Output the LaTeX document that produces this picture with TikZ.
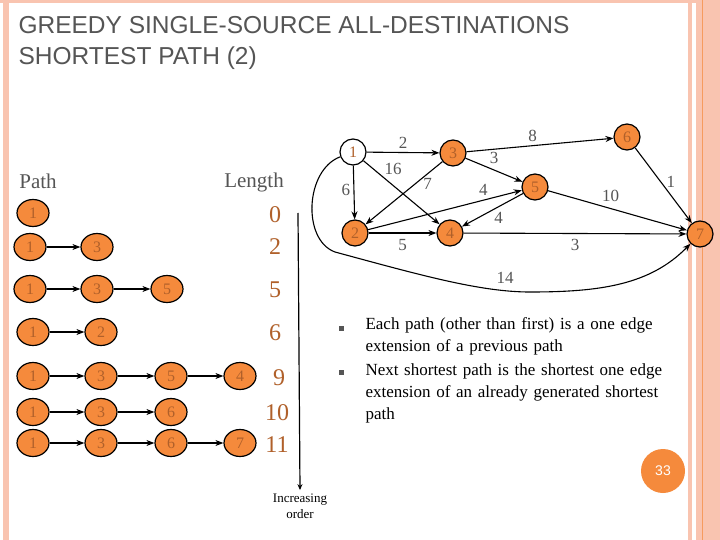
\documentclass[tikz,border=0pt]{standalone}
\usepackage{fontspec}
\setmainfont{Liberation Serif}
\newfontfamily\titlefont{Liberation Sans}
\usetikzlibrary{arrows.meta,shapes.geometric}
\definecolor{org}{HTML}{F58A3C}
\definecolor{brn}{HTML}{B0602A}
\definecolor{pk}{HTML}{F9C4B0}
\definecolor{gr}{HTML}{555555}
\tikzset{
 gn/.style={circle,draw=black,line width=1.2pt,fill=org,minimum size=26pt,inner sep=0pt,font=\fontsize{16}{16}\selectfont,text=brn},
 tn/.style={ellipse,draw=black,line width=1.2pt,fill=org,minimum width=32pt,minimum height=27pt,inner sep=0pt,font=\fontsize{16}{16}\selectfont,text=brn},
 ed/.style={-{Stealth[length=8pt,width=6pt]},line width=1.1pt},
 el/.style={text=gr,font=\fontsize{17}{17}\selectfont},
 len/.style={text=brn,font=\fontsize{24}{24}\selectfont,anchor=center},
 bul/.style={rectangle,fill=gr,minimum size=5pt,inner sep=0pt},
}
\begin{document}
\begin{tikzpicture}[x=1pt,y=-1pt]
\useasboundingbox (0,0) rectangle (720,540);
\fill[white] (0,0) rectangle (720,540);
\fill[pk] (0,0) rectangle (720,3);
\fill[pk] (3,0) rectangle (9,540);
\fill[pk] (688,0) rectangle (692,540);
\fill[pk] (696,0) rectangle (720,540);
\draw[org!70!pk,line width=0.8pt] (702,0) -- (702,540);
\node[anchor=north west,align=left,text=gr,font=\titlefont\fontsize{24.5}{31}\selectfont] (title) at (15,13) {GREEDY SINGLE-SOURCE ALL-DESTINATIONS\\SHORTEST PATH (2)};
% graph
\node[gn,fill=white] (g1) at (353,152) {1};
\node[gn] (g3) at (453,153) {3};
\node[gn] (g6) at (627,137) {6};
\node[gn] (g5) at (535,187) {5};
\node[gn] (g2) at (355,233) {2};
\node[gn] (g4) at (450,233) {4};
\node[gn] (g7) at (700,234) {7};
\draw[ed] (g1) -- node[el,above]{2} (g3);
\draw[ed] (g1) -- node[el,left,pos=0.45]{6} (g2);
\draw[ed] (g1) -- node[el,pos=0.28,above right,xshift=-4pt]{16} (g4);
\draw[ed] (g3) -- node[el,pos=0.35,right,xshift=4pt]{7} (g2);
\draw[ed] (g3) -- node[el,above,pos=0.5,yshift=2pt]{3} (g5);
\draw[ed] (g3) -- node[el,above,pos=0.45]{8} (g6);
\draw[ed] (g2) -- node[el,above,pos=0.75,yshift=1pt]{4} (g5);
\draw[ed] (g5) -- node[el,below,pos=0.4,yshift=-2pt]{4} (g4);
\draw[ed] (g2) -- node[el,below,yshift=-2pt]{5} (g4);
\draw[ed] (g4) -- node[el,below,yshift=-2pt]{3} (g7);
\draw[ed] (g5) -- node[el,above,pos=0.45,yshift=3pt]{10} (g7);
\draw[ed] (g6) -- node[el,right,pos=0.45,xshift=2pt]{1} (g7);
\draw[ed] (g1) .. controls (305,170) and (302,240) .. (335,252) .. controls (420,275) and (480,292) .. (530,292) .. controls (600,292) and (650,285) .. (g7);
\node[el] (l14) at (505,278) {14};
% table labels
\node[text=gr,font=\fontsize{21}{21}\selectfont] (path) at (38,181) {Path};
\node[text=gr,font=\fontsize{21}{21}\selectfont] (length) at (254,182) {Length};
% rows
\node[tn] (a1) at (33,213) {1};
\node[len] (la) at (275,215) {0};
\node[tn] (b1) at (30,247) {1}; \node[tn] (b3) at (97,247) {3};
\draw[ed] (b1) -- (b3); \node[len] (lb) at (275,247) {2};
\node[tn] (c1) at (30,289) {1}; \node[tn] (c3) at (97,289) {3}; \node[tn] (c5) at (167,289) {5};
\draw[ed] (c1) -- (c3); \draw[ed] (c3) -- (c5); \node[len] (lc) at (275,290) {5};
\node[tn] (d1) at (33,332) {1}; \node[tn] (d2) at (101,332) {2};
\draw[ed] (d1) -- (d2); \node[len] (ld) at (275,333) {6};
\node[tn] (e1) at (33,376) {1}; \node[tn] (e3) at (101,376) {3}; \node[tn] (e5) at (171,376) {5}; \node[tn] (e4) at (240,376) {4};
\draw[ed] (e1) -- (e3); \draw[ed] (e3) -- (e5); \draw[ed] (e5) -- (e4); \node[len] (le) at (279,378) {9};
\node[tn] (f1) at (33,412) {1}; \node[tn] (f3) at (101,412) {3}; \node[tn] (f6) at (171,412) {6};
\draw[ed] (f1) -- (f3); \draw[ed] (f3) -- (f6); \node[len] (lf) at (277,413) {10};
\node[tn] (h1) at (33,443) {1}; \node[tn] (h3) at (101,443) {3}; \node[tn] (h6) at (171,443) {6}; \node[tn] (h7) at (240,443) {7};
\draw[ed] (h1) -- (h3); \draw[ed] (h3) -- (h6); \draw[ed] (h6) -- (h7); \node[len] (lh) at (277,445) {11};
% increasing order
\coordinate (vt) at (298,213);
\node[align=center,font=\fontsize{13}{16}\selectfont] (inc) at (300,506) {Increasing\\order};
\draw[-{Stealth[length=6pt,width=5pt]},line width=1.2pt] (vt) -- (inc.north);
% bullets
\node[bul] (b1m) at (341,328) {};
\node[bul] (b2m) at (341,372) {};
\node[anchor=north west,align=left,text width=330pt,font=\fontsize{17}{22}\selectfont] (t1) at (362,314) {Each path (other than first) is a one edge\\extension of a previous path};
\node[anchor=north west,align=left,text width=330pt,font=\fontsize{17}{22}\selectfont] (t2) at (362,360) {Next shortest path is the shortest one edge\\extension of an already generated shortest\\path};
% page number
\node[circle,fill=org,minimum size=44pt,text=white,font=\titlefont\fontsize{14}{14}\selectfont] (pg) at (663,471) {33};
\end{tikzpicture}
\end{document}
